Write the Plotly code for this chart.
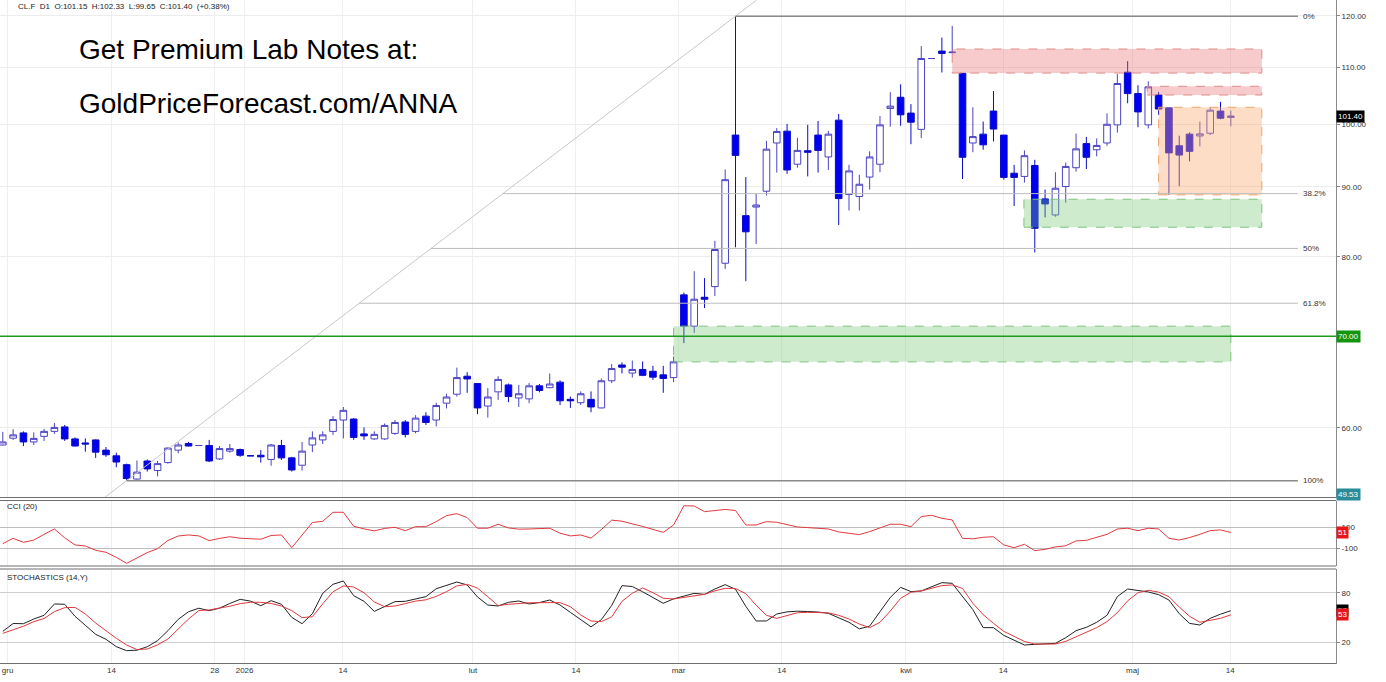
import numpy as np
import pandas as pd
import plotly.graph_objects as go

# ---------------- data ----------------
dates = pd.bdate_range("2025-11-28", "2026-05-14")  # 120 daily sessions
idx = list(range(len(dates)))

opens = [58.30, 58.97, 59.50, 58.60, 59.15, 59.65, 60.10, 58.90, 58.50, 58.80,
         57.80, 57.25, 56.40, 55.05, 56.75, 55.85, 56.60, 57.80, 58.45, 58.25,
         58.25, 56.95, 57.70, 57.85, 57.25, 57.30, 56.90, 58.25, 57.05, 56.35,
         58.30, 58.80, 59.65, 60.80, 60.90, 59.40, 58.90, 58.90, 59.45, 60.60,
         59.65, 61.20, 60.80, 62.55, 63.50, 65.45, 64.65, 62.25, 63.75, 64.50,
         63.10, 63.00, 64.40, 64.20, 64.80, 62.95, 62.60, 62.95, 62.05, 64.95,
         66.70, 65.80, 66.20, 66.00, 65.60, 65.30, 75.05, 71.20, 74.75, 76.10,
         79.15, 98.20, 85.75, 87.00, 89.35, 96.90, 98.85, 93.50, 95.65, 98.20,
         94.65, 100.70, 88.85, 88.55, 91.50, 93.50, 102.70, 104.65, 101.90, 99.15,
         111.70, 113.10, 112.80, 108.95, 96.90, 98.35, 102.25, 98.20, 92.10, 91.60,
         93.30, 88.20, 85.85, 90.05, 92.95, 96.80, 95.80, 96.90, 99.90, 109.15,
         105.30, 99.90, 105.05, 102.80, 96.45, 98.35, 98.05, 98.50, 102.25, 101.15]
highs = [59.60, 59.87, 59.65, 59.55, 59.90, 60.50, 60.30, 59.05, 58.95, 58.85,
         58.10, 57.55, 56.50, 56.80, 56.90, 56.75, 58.05, 58.55, 58.60, 58.25,
         58.80, 58.20, 58.40, 57.95, 57.25, 57.80, 58.40, 58.80, 57.15, 58.60,
         59.65, 59.65, 61.20, 62.15, 61.00, 60.05, 59.65, 60.45, 60.80, 60.80,
         61.30, 61.60, 62.60, 63.55, 66.40, 65.90, 64.70, 64.15, 65.45, 64.65,
         64.50, 64.70, 64.60, 65.75, 65.00, 63.25, 63.80, 63.80, 65.20, 66.80,
         67.00, 67.20, 67.10, 66.60, 66.60, 67.65, 75.35, 78.10, 77.20, 82.20,
         92.70, 119.95, 91.50, 89.00, 97.25, 99.35, 100.05, 97.75, 99.90, 100.55,
         98.90, 101.75, 93.40, 91.85, 95.55, 101.40, 105.55, 106.95, 103.45, 114.05,
         111.70, 115.70, 118.00, 109.00, 102.90, 100.45, 105.75, 98.20, 93.40, 95.70,
         94.20, 89.60, 92.25, 93.75, 98.45, 97.90, 97.65, 101.85, 108.80, 111.20,
         106.80, 107.50, 105.60, 102.80, 98.10, 98.65, 100.45, 102.90, 103.85, 102.33]
lows = [58.25, 58.80, 58.20, 58.30, 58.70, 59.40, 58.70, 58.15, 57.65, 57.05,
        57.15, 56.15, 54.90, 55.00, 55.75, 55.30, 56.50, 57.50, 58.15, 58.25,
        56.65, 56.85, 57.55, 57.15, 57.25, 56.60, 56.30, 56.85, 55.75, 55.85,
        57.60, 58.40, 59.30, 58.95, 58.80, 58.80, 58.80, 58.80, 59.30, 59.05,
        59.45, 60.30, 60.15, 62.00, 63.25, 63.65, 61.40, 61.05, 62.90, 62.65,
        62.15, 62.55, 63.70, 64.15, 62.35, 62.05, 62.35, 61.60, 62.00, 64.70,
        65.75, 65.30, 65.45, 65.05, 63.65, 64.80, 69.20, 70.40, 73.40, 74.90,
        78.40, 81.30, 76.80, 81.75, 88.70, 92.20, 92.00, 92.95, 91.60, 92.20,
        92.60, 84.40, 86.50, 86.50, 89.60, 92.25, 99.60, 99.75, 96.70, 97.70,
        111.70, 109.10, 112.65, 91.20, 95.40, 95.80, 97.15, 91.10, 87.15, 90.65,
        80.60, 85.50, 85.60, 87.65, 92.35, 92.75, 94.75, 96.45, 98.60, 103.60,
        99.50, 99.30, 101.60, 88.80, 90.10, 93.95, 96.35, 98.20, 100.85, 99.65]
closes = [58.60, 59.30, 58.60, 58.95, 59.65, 60.05, 58.90, 58.20, 58.40, 57.60,
          57.35, 56.65, 55.10, 55.70, 56.00, 56.50, 58.00, 58.30, 58.20, 58.25,
          56.75, 57.95, 57.95, 57.30, 57.25, 57.15, 58.30, 57.05, 55.90, 57.70,
          59.00, 59.30, 60.85, 61.80, 59.05, 59.20, 59.35, 60.25, 60.55, 59.35,
          61.00, 60.55, 62.30, 63.20, 65.30, 65.15, 62.05, 63.20, 65.10, 63.25,
          63.55, 64.40, 63.90, 64.60, 62.80, 62.80, 63.55, 62.15, 64.95, 66.30,
          66.45, 66.20, 65.55, 65.35, 65.20, 67.05, 71.20, 74.50, 74.50, 81.00,
          91.10, 94.90, 83.45, 87.30, 95.90, 98.80, 92.60, 95.70, 95.40, 95.70,
          98.35, 88.25, 92.45, 90.40, 94.65, 99.90, 103.10, 101.60, 100.35, 111.70,
          111.70, 112.65, 112.90, 94.60, 97.95, 96.60, 99.20, 91.45, 91.45, 94.85,
          83.95, 87.45, 89.80, 93.15, 95.95, 94.60, 96.50, 100.00, 107.10, 105.30,
          102.10, 106.50, 102.60, 95.30, 94.95, 95.55, 98.40, 102.40, 101.02, 101.40]

cci = [-56, -5, -43, -22, 33, 84, 0, -68, -78, -119,
       -138, -186, -243, -190, -141, -103, -25, 17, 27, 18,
       -27, -6, 10, -4, -12, -14, 22, 27, -94, 25,
       145, 157, 243, 243, 110, 85, 66, 89, 100, 68,
       106, 106, 154, 211, 230, 192, 91, 91, 129, 94,
       82, 84, 87, 91, 44, 18, 27, -3, 78, 168,
       158, 136, 108, 80, 52, 122, 305, 303, 249, 259,
       270, 260, 122, 122, 154, 148, 122, 103, 97, 89,
       84, 56, 40, 30, 59, 97, 129, 129, 106, 202,
       214, 186, 170, -5, -10, 5, 10, -68, -94, -62,
       -122, -110, -87, -76, -30, -24, 5, 33, 84, 91,
       68, 91, 84, -5, -21, 2, 33, 68, 75, 51]

stoch_k = [33.3, 42.8, 42.6, 48.3, 52.8, 66.6, 66.2, 51.6, 40.6, 29.7,
           23.6, 14.7, 9.8, 10.4, 14.6, 22.0, 34.1, 47.9, 57.2, 61.4,
           58.4, 61.5, 67.2, 72.2, 70.1, 64.5, 70.6, 66.2, 50.3, 42.6,
           54.8, 79.5, 90.5, 94.5, 76.7, 69.8, 57.6, 63.4, 69.4, 69.8,
           72.6, 75.5, 85.1, 88.9, 93.3, 89.7, 75.1, 65.3, 64.1, 68.6,
           70.2, 66.6, 68.3, 71.4, 65.3, 56.4, 47.1, 38.8, 47.5, 64.7,
           88.9, 87.8, 81.4, 74.1, 67.4, 72.8, 75.9, 79.5, 78.3, 84.8,
           90.1, 84.4, 63.7, 45.9, 45.9, 54.4, 57.0, 57.8, 57.4, 56.8,
           55.2, 49.9, 44.3, 36.3, 39.6, 57.2, 74.5, 86.8, 81.6, 82.4,
           87.6, 92.5, 91.7, 76.3, 59.7, 37.8, 37.8, 28.4, 22.4, 16.7,
           17.5, 17.9, 18.7, 25.6, 34.1, 38.2, 44.3, 52.8, 75.5, 84.8,
           83.2, 81.2, 77.9, 71.4, 54.8, 43.0, 41.0, 49.1, 54.2, 58.4]
stoch_d = [30.9, 34.8, 39.5, 45.1, 48.9, 57.2, 62.1, 62.4, 54.4, 43.4,
           34.0, 24.8, 16.7, 11.2, 11.8, 16.9, 24.0, 36.1, 48.3, 58.6,
           59.3, 61.6, 63.8, 67.0, 68.6, 68.6, 67.2, 64.1, 58.4, 50.0,
           51.1, 66.7, 81.4, 88.5, 87.2, 80.2, 69.1, 63.2, 64.1, 67.0,
           70.1, 71.6, 75.8, 81.5, 88.6, 90.5, 85.9, 75.4, 64.6, 66.2,
           67.3, 68.0, 68.2, 68.2, 68.2, 63.3, 53.2, 45.9, 45.1, 50.9,
           69.8, 79.6, 86.0, 80.3, 73.5, 72.7, 74.3, 76.8, 78.3, 82.5,
           85.6, 85.4, 79.1, 65.1, 52.8, 49.1, 52.8, 55.9, 56.4, 56.4,
           55.8, 52.8, 48.3, 42.2, 37.8, 44.3, 58.0, 73.4, 80.9, 82.4,
           85.2, 88.9, 89.7, 85.5, 67.4, 53.6, 43.0, 33.3, 27.2, 21.1,
           17.9, 17.5, 17.9, 21.1, 26.8, 32.1, 37.8, 45.1, 56.0, 70.4,
           80.2, 83.2, 81.0, 75.5, 62.9, 51.6, 44.4, 46.7, 49.1, 53.4]

# 70.00 is shown by the green support tag on the axis
price_ticks = [60, 80, 90, 100, 110, 120]
cci_ticks = [-100, 100]
stoch_ticks = [20, 80]
date_tick_pos = [0.47, 10.54, 20.53, 23.43, 32.96, 45.56, 55.54, 65.48,
                 75.48, 87.52, 96.95, 109.47, 118.94]
date_tick_text = ["gru", "14", "28", "2026", "14", "lut", "14", "mar",
                  "14", "kwi", "14", "maj", "14"]

fib_levels = [0.0, 0.382, 0.5, 0.618, 1.0]
fib_labels = ["0%", "38.2%", "50%", "61.8%", "100%"]

zone_start = [92.0, 110.9, 112.0, 98.95, 65.0]
zone_end = [122.0, 122.0, 122.0, 122.0, 119.0]
zone_high = [113.5, 106.6, 102.9, 88.15, 71.2]
zone_low = [109.0, 105.05, 88.8, 84.1, 67.05]
zone_kind = ["red", "red", "orange", "green", "green"]

support_level = 70.0
extra_label = "49.53"

# ---------------- figure ----------------
FONT = "Liberation Sans, Arial, Helvetica, sans-serif"
YMAIN = [1.7273, 2.0908]
XR = [-0.271, 129.19]
FIB_END = 125.5

fig = go.Figure()

fig.add_trace(go.Candlestick(
    x=idx, open=opens, high=highs, low=lows, close=closes,
    increasing=dict(line=dict(color="#4b43c4", width=1), fillcolor="#ffffff"),
    decreasing=dict(line=dict(color="#0b0bc8", width=1), fillcolor="#0000f0"),
    whiskerwidth=0, xaxis="x", yaxis="y", hoverinfo="skip"))

zone_style = {
    "red": ("rgba(232,110,110,0.36)", "#de8a8a"),
    "orange": ("rgba(250,170,110,0.40)", "#f0a46a"),
    "green": ("rgba(120,200,120,0.36)", "#7cc47c"),
}
for x0, x1, lo, hi, k in zip(zone_start, zone_end, zone_low, zone_high, zone_kind):
    fc, lc = zone_style[k]
    fig.add_trace(go.Scatter(
        x=[x0, x1, x1, x0, x0], y=[lo, lo, hi, hi, lo], mode="lines",
        fill="toself", fillcolor=fc, line=dict(color=lc, width=1, dash="dash"),
        xaxis="x", yaxis="y", hoverinfo="skip"))

lo_i = int(np.argmin(lows))
hi_i = int(np.argmax(highs))
llo, lhi = np.log10(lows[lo_i]), np.log10(highs[hi_i])
slope = (lhi - llo) / (hi_i - lo_i)

xb = lo_i + (YMAIN[0] - llo) / slope
xt = lo_i + (YMAIN[1] - llo) / slope
fig.add_trace(go.Scatter(x=[xb, xt], y=[10 ** YMAIN[0], 10 ** YMAIN[1]], mode="lines",
                         line=dict(color="#c8c8c8", width=1), xaxis="x", yaxis="y",
                         hoverinfo="skip"))

annotations = []
for p, lab in zip(fib_levels, fib_labels):
    lv = lhi - p * (lhi - llo)
    xs = hi_i - p * (hi_i - lo_i)
    strong = p in (0.0, 1.0)
    fig.add_trace(go.Scatter(
        x=[xs, FIB_END], y=[10 ** lv, 10 ** lv], mode="lines",
        line=dict(color="#8a8a8a" if strong else "#bdbdbd", width=1.5 if strong else 1),
        xaxis="x", yaxis="y", hoverinfo="skip"))
    annotations.append(dict(x=FIB_END + 0.3, y=lv, xref="x", yref="y", text=lab,
                            xanchor="left", yanchor="middle", showarrow=False,
                            font=dict(family=FONT, size=8, color="#333")))

fig.add_trace(go.Scatter(x=[XR[0], XR[1]], y=[support_level, support_level], mode="lines",
                         line=dict(color="#1f9a1f", width=1.5), xaxis="x", yaxis="y",
                         hoverinfo="skip"))

fig.add_trace(go.Scatter(x=idx, y=cci, mode="lines", line=dict(color="#e0393e", width=1),
                         xaxis="x2", yaxis="y2", hoverinfo="skip"))
fig.add_trace(go.Scatter(x=idx, y=stoch_k, mode="lines", line=dict(color="#222222", width=1),
                         xaxis="x3", yaxis="y3", hoverinfo="skip"))
fig.add_trace(go.Scatter(x=idx, y=stoch_d, mode="lines", line=dict(color="#e0393e", width=1),
                         xaxis="x3", yaxis="y3", hoverinfo="skip"))

PH = 664.0
def py(px):
    return (PH - px) / PH

tickfont = dict(family=FONT, size=8, color="#333")
xcommon = dict(range=XR, tickvals=date_tick_pos, ticktext=date_tick_text, showgrid=True,
               gridcolor="#efefef", gridwidth=1, zeroline=False, ticks="", showline=False,
               fixedrange=True)
ycommon = dict(side="right", ticks="outside", ticklen=3, tickcolor="#888",
               showline=True, linecolor="#8a8a8a", linewidth=1, zeroline=False,
               tickfont=tickfont, fixedrange=True)

fig.update_layout(
    width=1386, height=682,
    margin=dict(l=0, r=50, t=0, b=18),
    paper_bgcolor="white", plot_bgcolor="white",
    showlegend=False, boxgap=0.2, boxgroupgap=0.2,
    xaxis=dict(**xcommon, domain=[0, 1], anchor="y", showticklabels=False,
               rangeslider=dict(visible=False)),
    xaxis2=dict(**xcommon, domain=[0, 1], anchor="y2", matches="x", showticklabels=False),
    xaxis3=dict(**xcommon, domain=[0, 1], anchor="y3", matches="x", showticklabels=True,
                tickfont=tickfont),
    yaxis=dict(**ycommon, type="log", domain=[py(497.5), 1], range=YMAIN, anchor="x",
               tickvals=price_ticks, ticktext=[f"{v:.2f}" for v in price_ticks],
               showgrid=True, gridcolor="#ececec"),
    yaxis2=dict(**ycommon, domain=[py(566), py(500.5)], range=[-268.5, 355], anchor="x2",
                tickvals=cci_ticks, ticktext=[str(v) for v in cci_ticks],
                showgrid=True, gridcolor="#bdbdbd"),
    yaxis3=dict(**ycommon, domain=[0, py(569)], range=[-6.4, 109.1], anchor="x3",
                tickvals=stoch_ticks, ticktext=[str(v) for v in stoch_ticks],
                showgrid=True, gridcolor="#cfcfcf"),
)

shapes = []
for px in (497.5, 500.5, 566, 569, 663.5):
    shapes.append(dict(type="line", xref="paper", yref="paper", x0=0, x1=1,
                       y0=py(px), y1=py(px), line=dict(color="#6f6f6f", width=1)))
fig.update_layout(shapes=shapes)

hdr = (f"CL.F  D1  O:{opens[-1]:.2f}  H:{highs[-1]:.2f}  L:{lows[-1]:.2f}  "
       f"C:{closes[-1]:.2f}  ({(closes[-1] / closes[-2] - 1) * 100:+.2f}%)")
annotations += [
    dict(x=16 / 1336, y=py(6.5), xref="paper", yref="paper", text=hdr, xanchor="left",
         yanchor="middle", showarrow=False, font=dict(family=FONT, size=8, color="#222")),
    dict(x=77 / 1336, y=py(49), xref="paper", yref="paper", text="Get Premium Lab Notes at:",
         xanchor="left", yanchor="middle", showarrow=False,
         font=dict(family=FONT, size=28, color="#000")),
    dict(x=77 / 1336, y=py(104), xref="paper", yref="paper", text="GoldPriceForecast.com/ANNA",
         xanchor="left", yanchor="middle", showarrow=False,
         font=dict(family=FONT, size=28, color="#000")),
    dict(x=5 / 1336, y=py(506.5), xref="paper", yref="paper", text="CCI (20)",
         xanchor="left", yanchor="middle", showarrow=False,
         font=dict(family=FONT, size=8, color="#222")),
    dict(x=5 / 1336, y=py(577.5), xref="paper", yref="paper", text="STOCHASTICS (14,Y)",
         xanchor="left", yanchor="middle", showarrow=False,
         font=dict(family=FONT, size=8, color="#222")),
]

def tag(y, yref, text, bg):
    return dict(x=1, y=y, xref="paper", yref=yref, text=text, xanchor="left",
                yanchor="middle", showarrow=False, bgcolor=bg, borderpad=1,
                font=dict(family=FONT, size=8, color="white"))

annotations += [
    tag(np.log10(closes[-1]), "y", f"{closes[-1]:.2f}", "#000000"),
    tag(np.log10(support_level), "y", f"{support_level:.2f}", "#12960f"),
    tag(py(495), "paper", extra_label, "#2a8c99"),
    tag(cci[-1], "y2", f"{cci[-1]:.0f}", "#e8161b"),
    tag(stoch_k[-1], "y3", f"{stoch_k[-1]:.0f}", "#000000"),
    tag(stoch_d[-1], "y3", f"{stoch_d[-1]:.0f}", "#e8161b"),
]
fig.update_layout(annotations=annotations)

fig.write_html("out.html", config={"displayModeBar": False})
